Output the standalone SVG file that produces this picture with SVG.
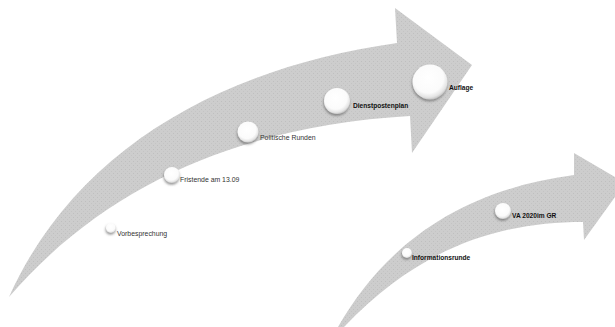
<svg xmlns="http://www.w3.org/2000/svg" width="615" height="327" viewBox="0 0 615 327">
<style>
.arrow{fill:url(#dots);}
.lbl{font-family:"Liberation Sans",Arial,sans-serif;font-size:6.9px;fill:#333;}
.b{font-weight:bold;fill:#111;font-size:6.6px;}
.ball{fill:url(#ballg);filter:url(#sh);}
</style>
<defs>
<pattern id="dots" width="4" height="4" patternUnits="userSpaceOnUse">
<rect width="4" height="4" fill="#cdcdcd"/>
<rect x="1" y="1" width="1" height="1" fill="#bfbfbf"/>
<rect x="3" y="3" width="1" height="1" fill="#c4c4c4"/>
</pattern>
<radialGradient id="ballg" cx="0.45" cy="0.38" r="0.62">
<stop offset="0" stop-color="#ffffff"/>
<stop offset="0.7" stop-color="#fbfbfb"/>
<stop offset="0.9" stop-color="#e4e4e4"/>
<stop offset="1" stop-color="#c4c4c4"/>
</radialGradient>
<filter id="sh" x="-40%" y="-40%" width="180%" height="190%">
<feDropShadow dx="-0.5" dy="1.8" stdDeviation="1.2" flood-color="#555" flood-opacity="0.6"/>
</filter>
</defs>
<g id="connectors">
<path id="arrow-main" class="arrow" d="M 9 297 C 75 150, 220 68, 397 43 L 395 8 L 472 65 L 412 153 L 410 116 C 250 125, 110 180, 9 297 Z"/>
<path id="arrow-second" class="arrow" d="M 338 327 C 385 245, 460 190, 574 175 L 574 153 L 625 183 L 584 240 L 583 222 C 500 222, 420 247, 344 327 Z"/>
</g>
<g id="n-vorbesprechung"><circle class="ball" cx="111" cy="228" r="5"/><text class="lbl" x="117" y="236">Vorbesprechung</text></g>
<g id="n-fristende"><circle class="ball" cx="172" cy="175" r="8"/><text class="lbl" x="180" y="182">Fristende am 13.09</text></g>
<g id="n-politische"><circle class="ball" cx="248" cy="132" r="10.5"/><text class="lbl" x="260" y="140">Politische Runden</text></g>
<g id="n-dienstpostenplan"><circle class="ball" cx="337" cy="101" r="13"/><text class="lbl b" x="353" y="108">Dienstpostenplan</text></g>
<g id="n-auflage"><circle class="ball" cx="430" cy="82" r="17.5"/><text class="lbl b" x="449" y="90">Auflage</text></g>
<g id="n-informationsrunde"><circle class="ball" cx="407" cy="253" r="5"/><text class="lbl b" x="412" y="260">Informationsrunde</text></g>
<g id="n-va2020"><circle class="ball" cx="503" cy="211" r="8"/><text class="lbl b" x="512" y="218">VA 2020im GR</text></g>
</svg>
